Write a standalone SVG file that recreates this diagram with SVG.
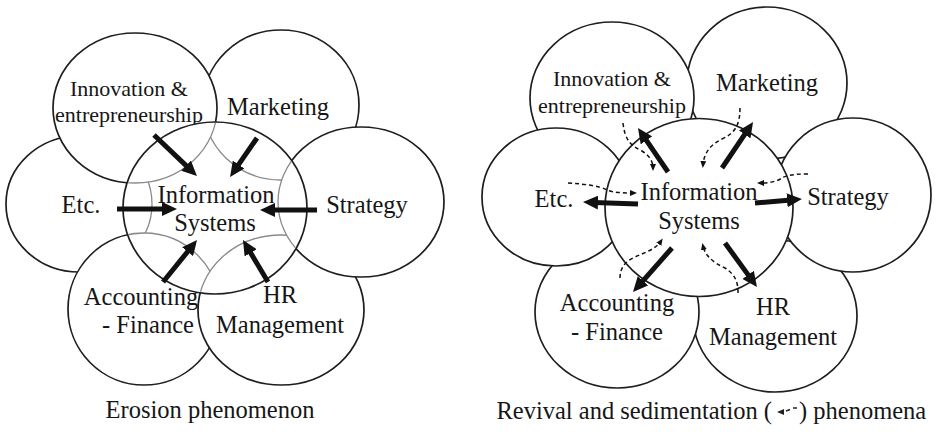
<svg xmlns="http://www.w3.org/2000/svg" xmlns:xlink="http://www.w3.org/1999/xlink" width="936" height="433" viewBox="0 0 936 433">
  <style>
    .ring { fill: #fff; stroke: #1e1e1e; stroke-width: 1.7; }
    .inner { fill: #fff; stroke: #8a8a8a; stroke-width: 1.3; }
    .edge { fill: none; stroke: #1e1e1e; stroke-width: 1.7; }
    text { font-family: "Liberation Serif", "Times New Roman", serif; fill: #161616; }
    .lbl { font-size: 24.5px; text-anchor: middle; }
    .sm { font-size: 22px; }
    .cap { font-size: 24.5px; }
    .thick { fill: none; stroke: #111; stroke-width: 5; marker-end: url(#head); }
    .dash { fill: none; stroke: #111; stroke-width: 1.5; stroke-dasharray: 4 3; marker-end: url(#dhead); }
  </style>
  <defs>
    <marker id="head" markerUnits="userSpaceOnUse" viewBox="0 0 15 14" markerWidth="15" markerHeight="14" refX="4" refY="7" orient="auto">
      <path d="M0,0 L15,7 L0,14 z" fill="#111"/>
    </marker>
    <marker id="dhead" markerUnits="userSpaceOnUse" viewBox="0 0 7 6" markerWidth="7" markerHeight="6" refX="4" refY="3" orient="auto">
      <path d="M0,0 L7,3 L0,6 z" fill="#111"/>
    </marker>
    <!-- geometry of the six outer domains, left figure -->
    <ellipse id="l-mkt-shape" cx="281" cy="105" rx="78" ry="75"/>
    <ellipse id="l-etc-shape" cx="79" cy="204" rx="73" ry="68"/>
    <ellipse id="l-inn-shape" cx="135" cy="108" rx="82" ry="75"/>
    <ellipse id="l-acc-shape" cx="144" cy="309" rx="76" ry="76"/>
    <ellipse id="l-hr-shape" cx="281" cy="310" rx="83" ry="75"/>
    <ellipse id="l-str-shape" cx="361" cy="202" rx="83" ry="75"/>
    <clipPath id="l-core-clip">
      <ellipse cx="215" cy="208" rx="91" ry="85"/>
    </clipPath>
  </defs>

  <!-- ===== Left figure: erosion ===== -->
  <g id="left-figure" font-family="Liberation Serif, serif">
    <g id="l-marketing">
      <use xlink:href="#l-mkt-shape" class="ring"/>
      <text class="lbl" x="278" y="115">Marketing</text>
    </g>
    <g id="l-etc">
      <use xlink:href="#l-etc-shape" class="ring"/>
      <text class="lbl" x="81" y="213">Etc.</text>
    </g>
    <g id="l-innovation">
      <use xlink:href="#l-inn-shape" class="ring"/>
      <text class="lbl sm" x="129" y="96">Innovation &amp;</text>
      <text class="lbl sm" x="129" y="122">entrepreneurship</text>
    </g>
    <g id="l-accounting">
      <use xlink:href="#l-acc-shape" class="ring"/>
      <text class="lbl" x="141" y="305">Accounting</text>
      <text class="lbl" x="148" y="333">- Finance</text>
    </g>
    <g id="l-hr">
      <use xlink:href="#l-hr-shape" class="ring"/>
      <text class="lbl" x="280" y="303">HR</text>
      <text class="lbl" x="280" y="333">Management</text>
    </g>
    <g id="l-strategy">
      <use xlink:href="#l-str-shape" class="ring"/>
      <text class="lbl" x="367" y="213">Strategy</text>
    </g>
    <g id="l-is">
      <ellipse cx="215" cy="208" rx="92" ry="86" fill="#fff"/>
      <!-- faint traces of the surrounding domains inside the core -->
      <g clip-path="url(#l-core-clip)">
        <use xlink:href="#l-mkt-shape" class="inner"/>
        <use xlink:href="#l-etc-shape" class="inner"/>
        <use xlink:href="#l-inn-shape" class="inner"/>
        <use xlink:href="#l-acc-shape" class="inner"/>
        <use xlink:href="#l-hr-shape" class="inner"/>
        <use xlink:href="#l-str-shape" class="inner"/>
      </g>
      <ellipse class="edge" cx="215" cy="208" rx="92" ry="86"/>
      <text class="lbl" x="216" y="203">Information</text>
      <text class="lbl" x="215" y="231">Systems</text>
    </g>
    <g id="l-connectors">
      <path class="thick" d="M154,135 L189,168.4"/>
      <path class="thick" d="M257,138 L236.3,167.9"/>
      <path class="thick" d="M117,209 L166,209"/>
      <path class="thick" d="M317,210 L271,210"/>
      <path class="thick" d="M163,282 L190.1,248.6"/>
      <path class="thick" d="M268,282 L248.6,249.4"/>
    </g>
    <text class="cap" x="210" y="418" text-anchor="middle">Erosion phenomenon</text>
  </g>

  <!-- ===== Right figure: revival and sedimentation ===== -->
  <g id="right-figure" font-family="Liberation Serif, serif">
    <g id="r-marketing">
      <ellipse class="ring" cx="767" cy="83" rx="80" ry="76"/>
      <text class="lbl" x="767" y="91">Marketing</text>
    </g>
    <g id="r-innovation">
      <ellipse class="ring" cx="612" cy="98" rx="82" ry="76"/>
      <text class="lbl sm" x="612" y="86">Innovation &amp;</text>
      <text class="lbl sm" x="612" y="113">entrepreneurship</text>
    </g>
    <g id="r-hr">
      <ellipse class="ring" cx="775" cy="316" rx="82" ry="76"/>
      <text class="lbl" x="773" y="315">HR</text>
      <text class="lbl" x="773" y="345">Management</text>
    </g>
    <g id="r-accounting">
      <ellipse class="ring" cx="617" cy="312" rx="82" ry="76"/>
      <text class="lbl" x="617" y="311">Accounting</text>
      <text class="lbl" x="617" y="340">- Finance</text>
    </g>
    <g id="r-etc">
      <ellipse class="ring" cx="556" cy="197" rx="74" ry="69"/>
      <text class="lbl" x="554" y="207">Etc.</text>
    </g>
    <g id="r-strategy">
      <ellipse class="ring" cx="853" cy="195" rx="78" ry="77"/>
      <text class="lbl" x="848" y="205">Strategy</text>
    </g>
    <g id="r-is">
      <ellipse class="ring" cx="699" cy="207.5" rx="94" ry="89"/>
      <text class="lbl" x="699" y="200">Information</text>
      <text class="lbl" x="699" y="229">Systems</text>
    </g>
    <g id="r-connectors">
      <!-- outward flows -->
      <path class="thick" d="M668,172 L644.2,137.1"/>
      <path class="thick" d="M722,168 L746.9,131.1"/>
      <path class="thick" d="M638,204 L594,202.4"/>
      <path class="thick" d="M755,203 L791,199.9"/>
      <path class="thick" d="M672,248 L640.3,283.8"/>
      <path class="thick" d="M725,243 L750.5,278.1"/>
      <!-- returning flows -->
      <path class="dash" d="M623,123 C625,140 630,145 642,151 C650,156 653,162 653,168"/>
      <path class="dash" d="M740,108 C740,125 735,133 722,139 C710,145 704,153 703,165"/>
      <path class="dash" d="M568,183 C585,184 600,186 607,190 C615,193 625,193 634,193"/>
      <path class="dash" d="M808,174 C795,174 787,175 782,178 C776,182 768,183 760,183"/>
      <path class="dash" d="M620,278 C620,268 625,262 633,258 C645,252 655,250 661,241"/>
      <path class="dash" d="M738,293 C738,283 736,275 725,268 C712,262 705,255 703,246"/>
    </g>
    <g id="r-caption">
      <text class="cap" x="772" y="419" text-anchor="end">Revival and sedimentation (</text>
      <path d="M777,412 L784,409 L784,415 z" fill="#222"/>
      <path d="M786,411 L790,409.5 M793,408 L797,408" fill="none" stroke="#222" stroke-width="1.4"/>
      <text class="cap" x="799" y="419">) phenomena</text>
    </g>
  </g>
</svg>
